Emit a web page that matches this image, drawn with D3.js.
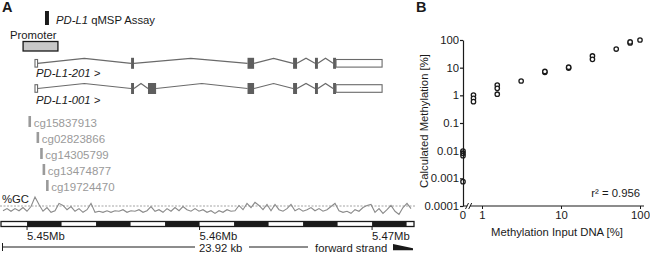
<!DOCTYPE html>
<html><head><meta charset="utf-8">
<script src="https://cdn.jsdelivr.net/npm/d3@7"></script>
<style>
html,body{margin:0;padding:0;background:#fff;}
svg{display:block;font-family:"Liberation Sans",Arial,sans-serif;}
</style></head><body>
<svg id="c" width="650" height="260"></svg>
<script>
// ---------------- DATA ----------------
// Panel A: genomic positions in kb (chr9)
const genomeDomain = [5448.49, 5472.43];
const promoterRange = [5449.77, 5451.79];
const assayRange = [5451.04, 5451.27];
const tx201Starts = [5450.46, 5456.03, 5462.78, 5465.42, 5466.69, 5467.74, 5467.91];
const tx201Ends   = [5450.61, 5456.20, 5463.16, 5465.65, 5466.86, 5467.91, 5470.58];
const tx201Types  = ["utr", "cds", "cds", "cds", "cds", "cds", "utr"];
const tx001Starts = [5450.46, 5456.03, 5457.01, 5462.78, 5465.42, 5466.69, 5467.74, 5467.91];
const tx001Ends   = [5450.61, 5456.20, 5457.48, 5463.16, 5465.65, 5466.86, 5467.91, 5470.58];
const tx001Types  = ["utr", "cds", "cds", "cds", "cds", "cds", "cds", "utr"];
const probeNames = ["cg15837913", "cg02823866", "cg14305799", "cg13474877", "cg19724470"];
const probePos = [5450.15, 5450.62, 5450.83, 5450.97, 5451.17];
const gcPercent = [41,45,40,45,41,47,40,49,67,53,40,47,38,41,55,51,43,49,40,45,38,43,55,38,40,38,41,38,41,40,
  43,38,41,40,43,38,41,49,40,43,38,45,40,47,41,49,43,40,45,40,43,38,41,36,41,38,43,40,41,51,
  43,55,47,57,51,43,53,41,53,43,40,45,53,41,45,40,43,47,41,45,40,43,49,55,41,38,40,36,43,40,
  47,51,53,38,45,36,43,51,40,34,47,55,45];
const blackSegStarts = [5450, 5454, 5458, 5462, 5466, 5470];
const mbTicks = [5450, 5460, 5470];
const mbLabels = ["5.45Mb", "5.46Mb", "5.47Mb"];
const lengthLabel = "23.92 kb";

// Panel B
const inputDNA = [0, 0, 0, 0, 0.78, 0.78, 0.78, 1.56, 1.56, 1.56, 3.13, 6.25, 6.25, 12.5, 12.5, 25, 25, 50, 75, 75, 100];
const calcMeth = [0.0097, 0.008, 0.0066, 0.00076, 1.03, 0.78, 0.59, 2.36, 1.79, 1.1, 3.3, 6.8, 7.3, 9.7, 10.4, 26.5, 20, 47, 78, 85, 100];
const yTicks = [100, 10, 1, 0.1, 0.01, 0.001, 0.0001];
const xTicks = [1, 10, 100];
const rSquared = "0.956";

// ---------------- DRAW ----------------
const svg = d3.select("#c");
const FS = 11.3;
const INK = "#1a1a1a";

// ===== Panel A =====
const gx = d3.scaleLinear().domain(genomeDomain).range([1, 414]);
const A = svg.append("g");
A.append("text").attr("x", 2).attr("y", 12).attr("font-size", 14.5).attr("font-weight", "bold").attr("fill", INK).text("A");

// assay
A.append("rect").attr("x", gx(assayRange[0])).attr("y", 11).attr("width", gx(assayRange[1]) - gx(assayRange[0])).attr("height", 14).attr("fill", "#1a1a1a");
const at = A.append("text").attr("x", 56).attr("y", 24).attr("font-size", FS).attr("fill", INK);
at.append("tspan").attr("font-style", "italic").text("PD-L1");
at.append("tspan").text(" qMSP Assay");

// promoter
A.append("text").attr("x", 10).attr("y", 39).attr("font-size", FS).attr("fill", INK).text("Promoter");
A.append("rect").attr("x", gx(promoterRange[0])).attr("y", 41.5).attr("width", gx(promoterRange[1]) - gx(promoterRange[0])).attr("height", 9.5)
  .attr("fill", "#c8c8c8").attr("stroke", "#1a1a1a").attr("stroke-width", 1.3);

function drawTx(cy, S, E, T, label, ly) {
  const g = A.append("g");
  for (let i = 0; i < S.length - 1; i++) {
    const a = E[i], b = S[i + 1];
    if (b - a < 0.05) continue;
    const m = (a + b) / 2;
    g.append("polyline").attr("points", [[gx(a), cy], [gx(m), cy - 5], [gx(b), cy]].map(p => p.join(",")).join(" "))
      .attr("fill", "none").attr("stroke", "#6a6a6a").attr("stroke-width", 1.2);
  }
  S.forEach((s, i) => {
    const x0 = gx(s), w = Math.max(2.5, gx(E[i]) - gx(s));
    if (T[i] === "cds") {
      g.append("rect").attr("x", x0).attr("y", cy - 5.5).attr("width", w).attr("height", 11).attr("fill", "#5e5e5e");
    } else {
      g.append("rect").attr("x", x0).attr("y", cy - 3.8).attr("width", w).attr("height", 7.6)
        .attr("fill", "#fff").attr("stroke", "#6a6a6a").attr("stroke-width", 1.1);
    }
  });
  g.append("text").attr("x", gx(S[0]) + 1).attr("y", ly).attr("font-size", FS).attr("font-style", "italic").attr("fill", INK).text(label + " >");
}
drawTx(63.3, tx201Starts, tx201Ends, tx201Types, "PD-L1-201", 77);
drawTx(88.5, tx001Starts, tx001Ends, tx001Types, "PD-L1-001", 103.5);

// probes
probeNames.forEach((n, i) => {
  const base = 126.5 + i * 16;
  const x = gx(probePos[i]);
  A.append("rect").attr("x", x - 1.2).attr("y", base - 10.5).attr("width", 2.6).attr("height", 11).attr("fill", "#9a9a9a");
  A.append("text").attr("x", x + 4).attr("y", base).attr("font-size", 11.5).attr("fill", "#9a9a9a").text(n);
});

// %GC
A.append("text").attr("x", 2).attr("y", 203).attr("font-size", FS).attr("fill", INK).text("%GC");
const gcY = d3.scaleLinear().domain([30, 70]).range([216.5, 195.5]);
const gcX = d3.scaleLinear().domain([0, gcPercent.length - 1]).range([3, 411]);
A.append("line").attr("x1", 0).attr("x2", 415).attr("y1", gcY(50)).attr("y2", gcY(50))
  .attr("stroke", "#9a9a9a").attr("stroke-width", 0.9).attr("stroke-dasharray", "2,1.5");
A.append("path").datum(gcPercent).attr("d", d3.line().x((d, i) => gcX(i)).y(d => gcY(d)))
  .attr("fill", "none").attr("stroke", "#8a8a8a").attr("stroke-width", 1.1);

// scale bar
A.append("rect").attr("x", gx(genomeDomain[0])).attr("y", 221.5).attr("width", gx(genomeDomain[1]) - gx(genomeDomain[0])).attr("height", 5)
  .attr("fill", "#fff").attr("stroke", "#1a1a1a").attr("stroke-width", 1.3);
blackSegStarts.forEach(s => {
  const e = Math.min(s + 2, genomeDomain[1]);
  A.append("rect").attr("x", gx(s)).attr("y", 221.5).attr("width", gx(e) - gx(s)).attr("height", 5).attr("fill", "#1a1a1a");
});
mbTicks.forEach((t, i) => {
  A.append("line").attr("x1", gx(t)).attr("x2", gx(t)).attr("y1", 226.5).attr("y2", 230).attr("stroke", "#1a1a1a").attr("stroke-width", 1);
  A.append("text").attr("x", gx(t)).attr("y", 239.5).attr("font-size", FS).attr("fill", INK).text(mbLabels[i]);
});

// length & strand
A.append("line").attr("x1", 2.5).attr("x2", 195).attr("y1", 247).attr("y2", 247).attr("stroke", "#1a1a1a").attr("stroke-width", 1);
A.append("line").attr("x1", 2.5).attr("x2", 2.5).attr("y1", 243).attr("y2", 251).attr("stroke", "#1a1a1a").attr("stroke-width", 1);
A.append("text").attr("x", 199).attr("y", 251.5).attr("font-size", FS).attr("fill", INK).text(lengthLabel);
A.append("line").attr("x1", 249).attr("x2", 308).attr("y1", 247).attr("y2", 247).attr("stroke", "#1a1a1a").attr("stroke-width", 1);
A.append("text").attr("x", 315).attr("y", 251.5).attr("font-size", FS).attr("fill", INK).text("forward strand");
A.append("polygon").attr("points", "393,244 413,248.2 413,250.2 393,250.2").attr("fill", "#1a1a1a");

// ===== Panel B =====
const B = svg.append("g");
B.append("text").attr("x", 416).attr("y", 12).attr("font-size", 14.5).attr("font-weight", "bold").attr("fill", INK).text("B");

const y = d3.scaleLog().domain([0.0001, 100]).range([206, 40]);
const xl = d3.scaleLog().domain([1, 100]).range([482, 640]);
const X0 = 463;
const px = v => v === 0 ? X0 : xl(v);

const yAxis = B.append("g").attr("transform", `translate(${X0},0)`)
  .call(d3.axisLeft(y).tickValues(yTicks).tickFormat(d => String(d)).tickSize(3).tickSizeOuter(0).tickPadding(1));
yAxis.selectAll("text").attr("font-size", FS).attr("font-family", null).attr("fill", INK);
yAxis.selectAll("line,path").attr("stroke", INK).attr("stroke-width", 1.2);

const xAxis = B.append("g").attr("transform", "translate(0,206)")
  .call(d3.axisBottom(xl).tickValues(xTicks).tickFormat(d => String(d)).tickSize(3).tickSizeOuter(0).tickPadding(2));
xAxis.select(".domain").remove();
xAxis.selectAll("text").attr("font-size", FS).attr("font-family", null).attr("fill", INK);
xAxis.selectAll("line").attr("stroke", INK).attr("stroke-width", 1);
B.append("line").attr("x1", X0).attr("x2", 644).attr("y1", 206).attr("y2", 206).attr("stroke", INK).attr("stroke-width", 1.2);
B.append("text").attr("x", X0).attr("y", 219).attr("text-anchor", "middle").attr("font-size", FS).attr("fill", INK).text("0");
// axis break
B.append("rect").attr("x", 467.3).attr("y", 204).attr("width", 2.6).attr("height", 4).attr("fill", "#fff");
B.append("line").attr("x1", 465.5).attr("y1", 209).attr("x2", 468.5).attr("y2", 203).attr("stroke", INK).attr("stroke-width", 1);
B.append("line").attr("x1", 468.7).attr("y1", 209).attr("x2", 471.7).attr("y2", 203).attr("stroke", INK).attr("stroke-width", 1);

// titles
B.append("text").attr("transform", "translate(428,121) rotate(-90)").attr("text-anchor", "middle").attr("font-size", FS).attr("fill", INK).text("Calculated Methylation [%]");
B.append("text").attr("x", 557).attr("y", 236).attr("text-anchor", "middle").attr("font-size", FS).attr("fill", INK).text("Methylation Input DNA [%]");
B.append("text").attr("x", 640).attr("y", 197).attr("text-anchor", "end").attr("font-size", FS).attr("fill", INK).text("r² = " + rSquared);

// points
B.append("g").selectAll("circle").data(inputDNA).join("circle")
  .attr("cx", (d) => px(d)).attr("cy", (d, i) => y(calcMeth[i])).attr("r", 2.2)
  .attr("fill", d => d === 0 ? "none" : "#fff").attr("stroke", "#1a1a1a").attr("stroke-width", 1.3);
</script>
</body></html>
